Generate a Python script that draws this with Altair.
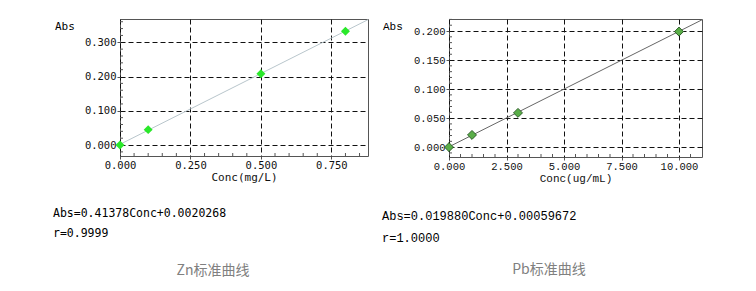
import altair as alt
import pandas as pd

# ---- data ----
zn_conc = [0.0, 0.1, 0.5, 0.8]
zn_abs = [0.0, 0.045, 0.208, 0.332]
zn_fit_x = [0.0, 0.88]
zn_fit_y = [0.002, 0.366]
zn_xticks = [0.0, 0.25, 0.5, 0.75]
zn_yticks = [0.0, 0.1, 0.2, 0.3]
zn_xminor = [0.05, 0.10, 0.15, 0.20, 0.30, 0.35, 0.40, 0.45, 0.55, 0.60, 0.65, 0.70, 0.80, 0.85]
zn_yminor = [-0.02, 0.02, 0.04, 0.06, 0.08, 0.12, 0.14, 0.16, 0.18, 0.22, 0.24, 0.26, 0.28,
             0.32, 0.34, 0.36]
zn_texts = ["Abs", "Abs=0.41378Conc+0.0020268", "r=0.9999", "Zn标准曲线"]

pb_conc = [0.0, 1.0, 3.0, 10.0]
pb_abs = [0.0, 0.021, 0.059, 0.199]
pb_fit_x = [0.0, 11.0]
pb_fit_y = [0.0006, 0.2193]
pb_xticks = [0.0, 2.5, 5.0, 7.5, 10.0]
pb_yticks = [0.0, 0.05, 0.1, 0.15, 0.2]
pb_xminor = [0.5, 1.0, 1.5, 2.0, 3.0, 3.5, 4.0, 4.5, 5.5, 6.0, 6.5, 7.0, 8.0, 8.5, 9.0, 9.5,
             10.5]
pb_yminor = [-0.01, 0.01, 0.02, 0.03, 0.04, 0.06, 0.07, 0.08, 0.09, 0.11, 0.12, 0.13, 0.14,
             0.16, 0.17, 0.18, 0.19, 0.21, 0.22]
pb_texts = ["Abs", "Abs=0.019880Conc+0.00059672", "r=1.0000", "Pb标准曲线"]


def text_layer(t, x, y, font, size, color="#000", align="left"):
    return alt.Chart(pd.DataFrame({"t": [t]})).mark_text(
        align=align, baseline="middle", font=font, fontSize=size, color=color
    ).encode(x=alt.value(x), y=alt.value(y), text="t:N")


def panel(conc, absv, fx, fy, xdom, ydom, xticks, yticks, xminor, yminor, xtitle, font,
          pt_fill, pt_stroke, line_color, texts, w, h, tpos, eq_size):
    pts = pd.DataFrame({"c": conc, "a": absv})
    fit = pd.DataFrame({"c": fx, "a": fy})
    common = dict(grid=True, gridColor="#111", gridDash=[5, 3], gridWidth=1,
                  ticks=True, tickSize=3, tickColor="#555", domain=False,
                  labelFont=font, labelFontSize=10.5, labelPadding=1,
                  labelOverlap=False, labelColor="#111", format=".3f")
    xaxis = alt.Axis(values=xticks, tickCount=len(xticks), labelFlush=False,
                     title=xtitle, titleFont=font, titleFontSize=11,
                     titleFontWeight="normal", titlePadding=1, titleColor="#111", **common)
    yaxis = alt.Axis(values=yticks, tickCount=len(yticks), title=None, **common)
    xs = alt.Scale(domain=xdom, nice=False, zero=False)
    ys = alt.Scale(domain=ydom, nice=False, zero=False)
    line = alt.Chart(fit).mark_line(color=line_color, strokeWidth=1, clip=True).encode(
        x=alt.X("c:Q", scale=xs, axis=xaxis), y=alt.Y("a:Q", scale=ys, axis=yaxis))
    xm = alt.Chart(pd.DataFrame({"c": xminor})).mark_rule(color="#555", strokeWidth=1).encode(
        x="c:Q", y=alt.value(h), y2=alt.value(h - 3))
    ym = alt.Chart(pd.DataFrame({"a": yminor})).mark_rule(color="#555", strokeWidth=1).encode(
        y="a:Q", x=alt.value(0), x2=alt.value(3))
    points = alt.Chart(pts).mark_point(
        shape="diamond", filled=True, size=80, fill=pt_fill, stroke=pt_stroke,
        strokeWidth=1 if pt_stroke else 0, opacity=1).encode(x="c:Q", y="a:Q")
    (ax, ay), (ex, ey), (rx, ry), (cx, cy) = tpos
    layers = [
        line, xm, ym, points,
        text_layer(texts[0], ax, ay, font, 11),
        text_layer(texts[1], ex, ey, font, eq_size),
        text_layer(texts[2], rx, ry, font, eq_size),
        text_layer(texts[3], cx, cy, "Noto Sans CJK SC", 14, color="#808080", align="center"),
    ]
    return alt.layer(*layers).properties(width=w, height=h)


left = panel(zn_conc, zn_abs, zn_fit_x, zn_fit_y, [0, 0.88], [-0.032, 0.368],
             zn_xticks, zn_yticks, zn_xminor, zn_yminor, "Conc(mg/L)", "DejaVu Sans Mono",
             "#2ae82a", None, "#b9c6cc", zn_texts, 248, 137,
             [(-65, 8), (-67, 195), (-67, 215), (93, 252)], 11.5)
right = panel(pb_conc, pb_abs, pb_fit_x, pb_fit_y, [0, 11], [-0.017, 0.2207],
              pb_xticks, pb_yticks, pb_xminor, pb_yminor, "Conc(ug/mL)", "Liberation Mono",
              "#5aae48", "#2f5f2a", "#666666", pb_texts, 253, 138,
              [(-66, 8), (-67, 197), (-67, 219), (100, 251)], 12)

chart = alt.hconcat(left, right, spacing=12).properties(
    padding={"left": 52, "top": 18, "right": 0, "bottom": 0}
).configure_view(stroke="#555", strokeWidth=1)

chart.save("out.html", embed_options={"renderer": "svg", "actions": False})
